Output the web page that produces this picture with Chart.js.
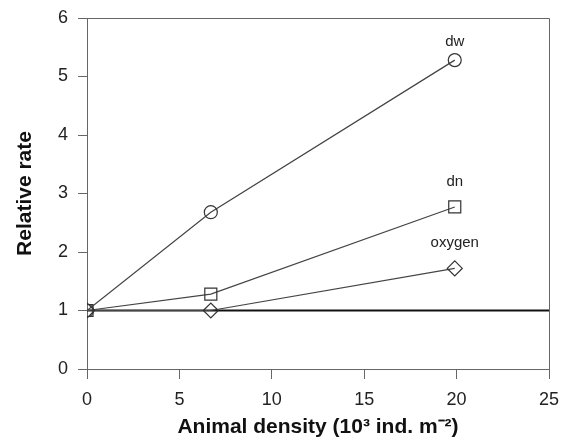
<!DOCTYPE html>
<html>
<head>
<meta charset="utf-8">
<script src="https://cdn.jsdelivr.net/npm/chart.js@4"></script>
<style>
  html, body { margin: 0; padding: 0; background: #fff; }
  #wrap { width: 566px; height: 448px; }
</style>
</head>
<body>
<div id="wrap"><canvas id="line_chart" width="566" height="448"></canvas></div>
<script>
// animal density (10^3 ind. m^-2)
var density = [0, 6.7, 19.9];
var dw = [1, 2.68, 5.28];
var dn = [1, 1.28, 2.77];
var oxygen = [1, 1.0, 1.72];
var baseX = [0, 25];
var baseY = [1, 1];
var seriesNames = ['dw', 'dn', 'oxygen'];

function pts(xs, ys) {
	var out = [];
	for (var i = 0; i < xs.length; i++) out.push({x: xs[i], y: ys[i]});
	return out;
}

var FONT = 'Liberation Sans, Arial, sans-serif';

// frame on top and right + end labels next to last points
var framePlugin = {
	id: 'frame',
	afterDatasetsDraw: function (chart) {
		var ctx = chart.ctx, a = chart.chartArea;
		ctx.save();
		ctx.strokeStyle = '#666';
		ctx.lineWidth = 1;
		ctx.beginPath();
		ctx.moveTo(a.left, a.top + 0.5);
		ctx.lineTo(a.right + 0.5, a.top + 0.5);
		ctx.lineTo(a.right + 0.5, a.bottom);
		ctx.stroke();

		ctx.fillStyle = '#222';
		ctx.font = '15px ' + FONT;
		ctx.textAlign = 'center';
		ctx.textBaseline = 'middle';
		var lift = [18, 25, 26];
		for (var i = 0; i < 3; i++) {
			var meta = chart.getDatasetMeta(i);
			var last = meta.data[meta.data.length - 1];
			ctx.fillText(seriesNames[i], last.x, last.y - lift[i]);
		}
		ctx.restore();
	}
};

function ds(label, ys, style, r) {
	return {
		label: label,
		data: pts(density, ys),
		borderColor: '#444',
		borderWidth: 1.2,
		backgroundColor: 'rgba(255,255,255,0)',
		pointStyle: style,
		pointRadius: r,
		pointBorderColor: '#333',
		pointBorderWidth: 1.2,
		pointBackgroundColor: 'rgba(255,255,255,0)',
		tension: 0
	};
}

new Chart(document.getElementById('line_chart').getContext('2d'), {
	type: 'line',
	data: {
		datasets: [
			ds('dw', dw, 'circle', 6.5),
			ds('dn', dn, 'rect', 8.5),
			ds('oxygen', oxygen, 'rectRot', 7.5),
			{
				label: 'base',
				data: pts(baseX, baseY),
				borderColor: '#111',
				borderWidth: 2,
				pointRadius: 0,
				tension: 0
			}
		]
	},
	options: {
		responsive: false,
		animation: false,
		layout: { padding: { top: 18, right: 17 } },
		plugins: { legend: { display: false }, tooltip: { enabled: false } },
		scales: {
			x: {
				type: 'linear',
				min: 0, max: 25,
				afterFit: function (s) { s.height = 79; s.paddingLeft = 0; s.paddingRight = 0; },
				ticks: { stepSize: 5, padding: 10, color: '#222', font: { family: FONT, size: 18 } },
				grid: { drawOnChartArea: false, tickLength: 10, color: '#666' },
				border: { color: '#666', width: 1 },
				title: {
					display: true,
					text: 'Animal density (10³ ind. m⁻²)',
					color: '#111',
					font: { family: FONT, size: 21, weight: 'bold' },
					padding: { top: 0, bottom: 8 }
				}
			},
			y: {
				min: 0, max: 6,
				afterFit: function (s) { s.width = 87; s.paddingTop = 0; s.paddingBottom = 0; },
				ticks: { stepSize: 1, padding: 10, color: '#222', font: { family: FONT, size: 18 } },
				grid: { drawOnChartArea: false, tickLength: 9, color: '#666' },
				border: { color: '#666', width: 1 },
				title: {
					display: true,
					text: 'Relative rate',
					color: '#111',
					font: { family: FONT, size: 21, weight: 'bold' },
					padding: { top: 13, bottom: 0 }
				}
			}
		}
	},
	plugins: [framePlugin]
});
</script>
</body>
</html>
